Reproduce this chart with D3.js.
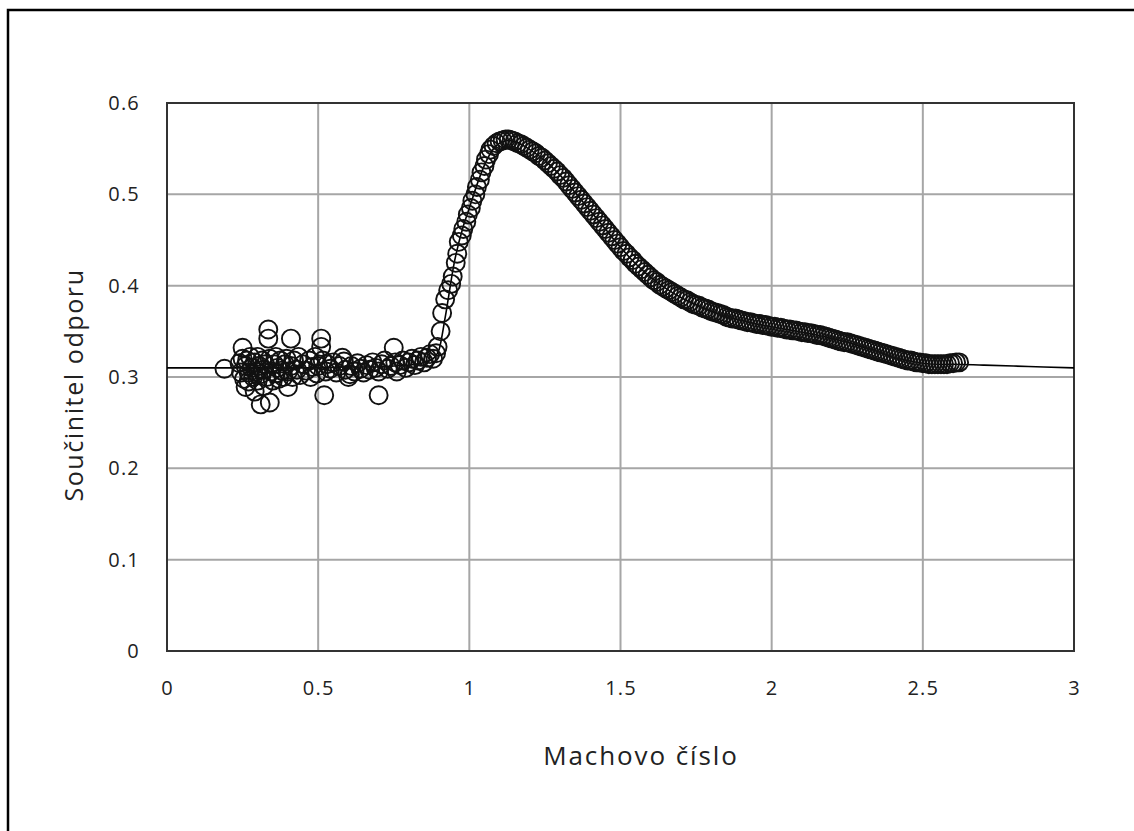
<!DOCTYPE html>
<html>
<head>
<meta charset="utf-8">
<script src="https://cdn.jsdelivr.net/npm/d3@7"></script>
<style>
  html, body { margin: 0; padding: 0; background: #fff; }
  svg { display: block; }
  text { font-family: "Open Sans", "Noto Sans", "DejaVu Sans", sans-serif; fill: #222; }
</style>
</head>
<body>
<svg id="chart" width="1134" height="831"></svg>
<script>
// ---- Data ----
const xTicks = [0, 0.5, 1, 1.5, 2, 2.5, 3];
const yTicks = [0, 0.1, 0.2, 0.3, 0.4, 0.5, 0.6];
const xTitle = "Machovo číslo";
const yTitle = "Součinitel odporu";

// model curve (solid line): Mach, Cd
const lineMach = [0, 0.1, 0.2, 0.3, 0.4, 0.5, 0.6, 0.7, 0.75, 0.8, 0.85, 0.88, 0.9, 0.92, 0.95, 0.98, 1.0, 1.03, 1.05, 1.08, 1.1, 1.13, 1.15, 1.2, 1.25, 1.3, 1.35, 1.4, 1.45, 1.5, 1.55, 1.6, 1.65, 1.7, 1.75, 1.8, 1.85, 1.9, 1.95, 2.0, 2.05, 2.1, 2.15, 2.2, 2.25, 2.3, 2.35, 2.4, 2.45, 2.5, 2.55, 2.6, 2.7, 2.8, 2.9, 3.0];
const lineCd   = [0.310, 0.310, 0.310, 0.310, 0.310, 0.310, 0.311, 0.311, 0.312, 0.313, 0.316, 0.320, 0.330, 0.365, 0.425, 0.465, 0.485, 0.515, 0.532, 0.550, 0.556, 0.559, 0.558, 0.549, 0.537, 0.521, 0.502, 0.482, 0.462, 0.442, 0.424, 0.409, 0.397, 0.387, 0.379, 0.372, 0.366, 0.362, 0.358, 0.355, 0.352, 0.349, 0.346, 0.342, 0.338, 0.333, 0.328, 0.322, 0.318, 0.315, 0.314, 0.314, 0.313, 0.312, 0.311, 0.310];

// measured points (open circles): subsonic scatter
const scatterMach = [0.19,0.24,0.245,0.25,0.25,0.255,0.26,0.26,0.265,0.27,0.27,0.275,0.28,0.285,0.29,0.29,0.295,0.30,0.30,0.305,0.31,0.31,0.315,0.32,0.32,0.325,0.33,0.335,0.335,0.34,0.34,0.345,0.35,0.355,0.36,0.36,0.365,0.37,0.375,0.38,0.385,0.39,0.395,0.40,0.40,0.41,0.41,0.415,0.42,0.43,0.435,0.44,0.45,0.46,0.47,0.475,0.48,0.49,0.495,0.50,0.51,0.51,0.515,0.52,0.525,0.53,0.54,0.55,0.56,0.57,0.58,0.585,0.59,0.60,0.605,0.61,0.62,0.63,0.64,0.65,0.66,0.67,0.68,0.69,0.70,0.70,0.71,0.72,0.73,0.74,0.75,0.755,0.76,0.77,0.78,0.79,0.80,0.81,0.82,0.83,0.84,0.85,0.86,0.87,0.88,0.89];
const scatterCd   = [0.309,0.315,0.305,0.332,0.320,0.298,0.289,0.312,0.318,0.305,0.295,0.322,0.310,0.300,0.316,0.284,0.306,0.322,0.296,0.312,0.270,0.303,0.318,0.308,0.290,0.314,0.300,0.352,0.342,0.272,0.320,0.306,0.296,0.314,0.322,0.304,0.310,0.298,0.318,0.307,0.300,0.314,0.320,0.289,0.306,0.342,0.312,0.300,0.318,0.308,0.322,0.302,0.314,0.307,0.318,0.300,0.311,0.322,0.304,0.312,0.342,0.333,0.318,0.280,0.306,0.314,0.309,0.316,0.305,0.312,0.321,0.317,0.308,0.300,0.303,0.312,0.306,0.315,0.309,0.305,0.313,0.308,0.316,0.310,0.280,0.306,0.314,0.318,0.309,0.312,0.332,0.316,0.306,0.313,0.318,0.310,0.316,0.320,0.313,0.318,0.322,0.316,0.321,0.325,0.320,0.326];

// transonic rise
const riseMach = [0.895,0.905,0.91,0.92,0.93,0.94,0.945,0.955,0.96,0.965,0.975,0.98,0.99,0.995,1.005,1.01,1.02,1.025,1.035,1.04,1.05,1.055,1.065,1.07,1.08,1.09];
const riseCd   = [0.333,0.350,0.370,0.385,0.395,0.402,0.410,0.425,0.435,0.448,0.455,0.462,0.470,0.478,0.485,0.493,0.500,0.508,0.516,0.524,0.531,0.538,0.544,0.549,0.553,0.556];

// supersonic decay
const descMach = [1.10,1.11,1.12,1.13,1.14,1.15,1.16,1.17,1.18,1.19,1.20,1.21,1.22,1.23,1.24,1.25,1.26,1.27,1.28,1.29,1.30,1.31,1.32,1.33,1.34,1.35,1.36,1.37,1.38,1.39,1.40,1.41,1.42,1.43,1.44,1.45,1.46,1.47,1.48,1.49,1.50,1.51,1.52,1.53,1.54,1.55,1.56,1.57,1.58,1.59,1.60,1.61,1.62,1.63,1.64,1.65,1.66,1.67,1.68,1.69,1.70,1.71,1.72,1.73,1.74,1.75,1.76,1.77,1.78,1.79,1.80,1.81,1.82,1.83,1.84,1.85,1.86,1.87,1.88,1.89,1.90,1.91,1.92,1.93,1.94,1.95,1.96,1.97,1.98,1.99,2.00,2.01,2.02,2.03,2.04,2.05,2.06,2.07,2.08,2.09,2.10,2.11,2.12,2.13,2.14,2.15,2.16,2.17,2.18,2.19,2.20,2.21,2.22,2.23,2.24,2.25,2.26,2.27,2.28,2.29,2.30,2.31,2.32,2.33,2.34,2.35,2.36,2.37,2.38,2.39,2.40,2.41,2.42,2.43,2.44,2.45,2.46,2.47,2.48,2.49,2.50,2.51,2.52,2.53,2.54,2.55,2.56,2.57,2.58,2.59,2.60,2.61,2.62];
const descCd   = [0.558,0.559,0.560,0.560,0.559,0.558,0.556,0.555,0.553,0.551,0.549,0.547,0.545,0.542,0.540,0.537,0.534,0.531,0.528,0.525,0.521,0.518,0.514,0.510,0.506,0.502,0.498,0.494,0.490,0.486,0.482,0.478,0.474,0.470,0.466,0.462,0.458,0.454,0.450,0.446,0.442,0.438,0.435,0.431,0.428,0.424,0.421,0.418,0.415,0.412,0.409,0.406,0.404,0.401,0.399,0.397,0.395,0.393,0.391,0.389,0.387,0.385,0.384,0.382,0.380,0.379,0.378,0.376,0.375,0.374,0.372,0.371,0.370,0.369,0.368,0.366,0.365,0.364,0.364,0.363,0.362,0.361,0.360,0.360,0.359,0.358,0.358,0.357,0.357,0.356,0.355,0.355,0.354,0.354,0.353,0.352,0.352,0.351,0.351,0.350,0.349,0.349,0.348,0.348,0.347,0.346,0.346,0.345,0.344,0.343,0.342,0.341,0.340,0.339,0.338,0.338,0.337,0.336,0.335,0.334,0.333,0.332,0.331,0.330,0.329,0.328,0.327,0.326,0.325,0.324,0.323,0.322,0.321,0.320,0.319,0.318,0.318,0.317,0.316,0.316,0.315,0.315,0.314,0.314,0.314,0.314,0.314,0.314,0.314,0.315,0.315,0.316,0.316,0.317];

// ---- Layout ----
const svg = d3.select("#chart");
const plot = { left: 167, top: 103, right: 1074, bottom: 651 };

const x = d3.scaleLinear().domain([0, 3]).range([plot.left, plot.right]);
const y = d3.scaleLinear().domain([0, 0.6]).range([plot.bottom, plot.top]);

// outer chart border
svg.append("rect")
  .attr("x", 8).attr("y", 10).attr("width", 1140).attr("height", 840)
  .attr("fill", "none").attr("stroke", "#000").attr("stroke-width", 2.5);

// gridlines
const grid = svg.append("g");
grid.selectAll("line.v").data(xTicks).join("line")
  .attr("x1", d => x(d)).attr("x2", d => x(d))
  .attr("y1", plot.top).attr("y2", plot.bottom)
  .attr("stroke", "#a6a6a6").attr("stroke-width", 2);
grid.selectAll("line.h").data(yTicks).join("line")
  .attr("y1", d => y(d)).attr("y2", d => y(d))
  .attr("x1", plot.left).attr("x2", plot.right)
  .attr("stroke", "#a6a6a6").attr("stroke-width", 2);

// plot area border
svg.append("rect")
  .attr("x", plot.left).attr("y", plot.top)
  .attr("width", plot.right - plot.left).attr("height", plot.bottom - plot.top)
  .attr("fill", "none").attr("stroke", "#333").attr("stroke-width", 2);

const tickFont = '"Open Sans", "Noto Sans", sans-serif';

// axes (labels only)
const xAxis = d3.axisBottom(x).tickValues(xTicks).tickSize(0).tickPadding(0).tickFormat(d3.format("~g"));
const gx = svg.append("g").attr("transform", `translate(0,${plot.bottom + 37})`).call(xAxis);
gx.select(".domain").remove();
gx.selectAll("text").attr("font-size", 20).attr("fill", "#222").attr("dy", "0.35em")
  .attr("letter-spacing", 1.2).style("font-family", tickFont);

const yAxis = d3.axisLeft(y).tickValues(yTicks).tickSize(0).tickPadding(0).tickFormat(d3.format("~g"));
const gy = svg.append("g").attr("transform", `translate(${plot.left - 27},0)`).call(yAxis);
gy.select(".domain").remove();
gy.selectAll("text").attr("font-size", 20).attr("fill", "#222")
  .attr("letter-spacing", 1.2).style("font-family", tickFont);

// model line
const lineData = lineMach.map((m, i) => [m, lineCd[i]]);
svg.append("path")
  .datum(lineData)
  .attr("fill", "none").attr("stroke", "#000").attr("stroke-width", 1.6)
  .attr("d", d3.line().x(d => x(d[0])).y(d => y(d[1])).curve(d3.curveMonotoneX));

// measured points
const pts = []
  .concat(scatterMach.map((m, i) => [m, scatterCd[i]]))
  .concat(riseMach.map((m, i) => [m, riseCd[i]]))
  .concat(descMach.map((m, i) => [m, descCd[i]]));
svg.append("g").selectAll("circle").data(pts).join("circle")
  .attr("cx", d => x(d[0])).attr("cy", d => y(d[1])).attr("r", 9)
  .attr("fill", "none").attr("stroke", "#111").attr("stroke-width", 1.9);

// axis titles
svg.append("text")
  .attr("x", 641).attr("y", 765)
  .attr("text-anchor", "middle").attr("font-size", 26).attr("letter-spacing", 1.9).attr("fill", "#222")
  .text(xTitle);
svg.append("text")
  .attr("transform", `translate(83,385) rotate(-90)`)
  .attr("text-anchor", "middle").attr("font-size", 25).attr("letter-spacing", 1.6).attr("fill", "#222")
  .text(yTitle);
</script>
</body>
</html>
